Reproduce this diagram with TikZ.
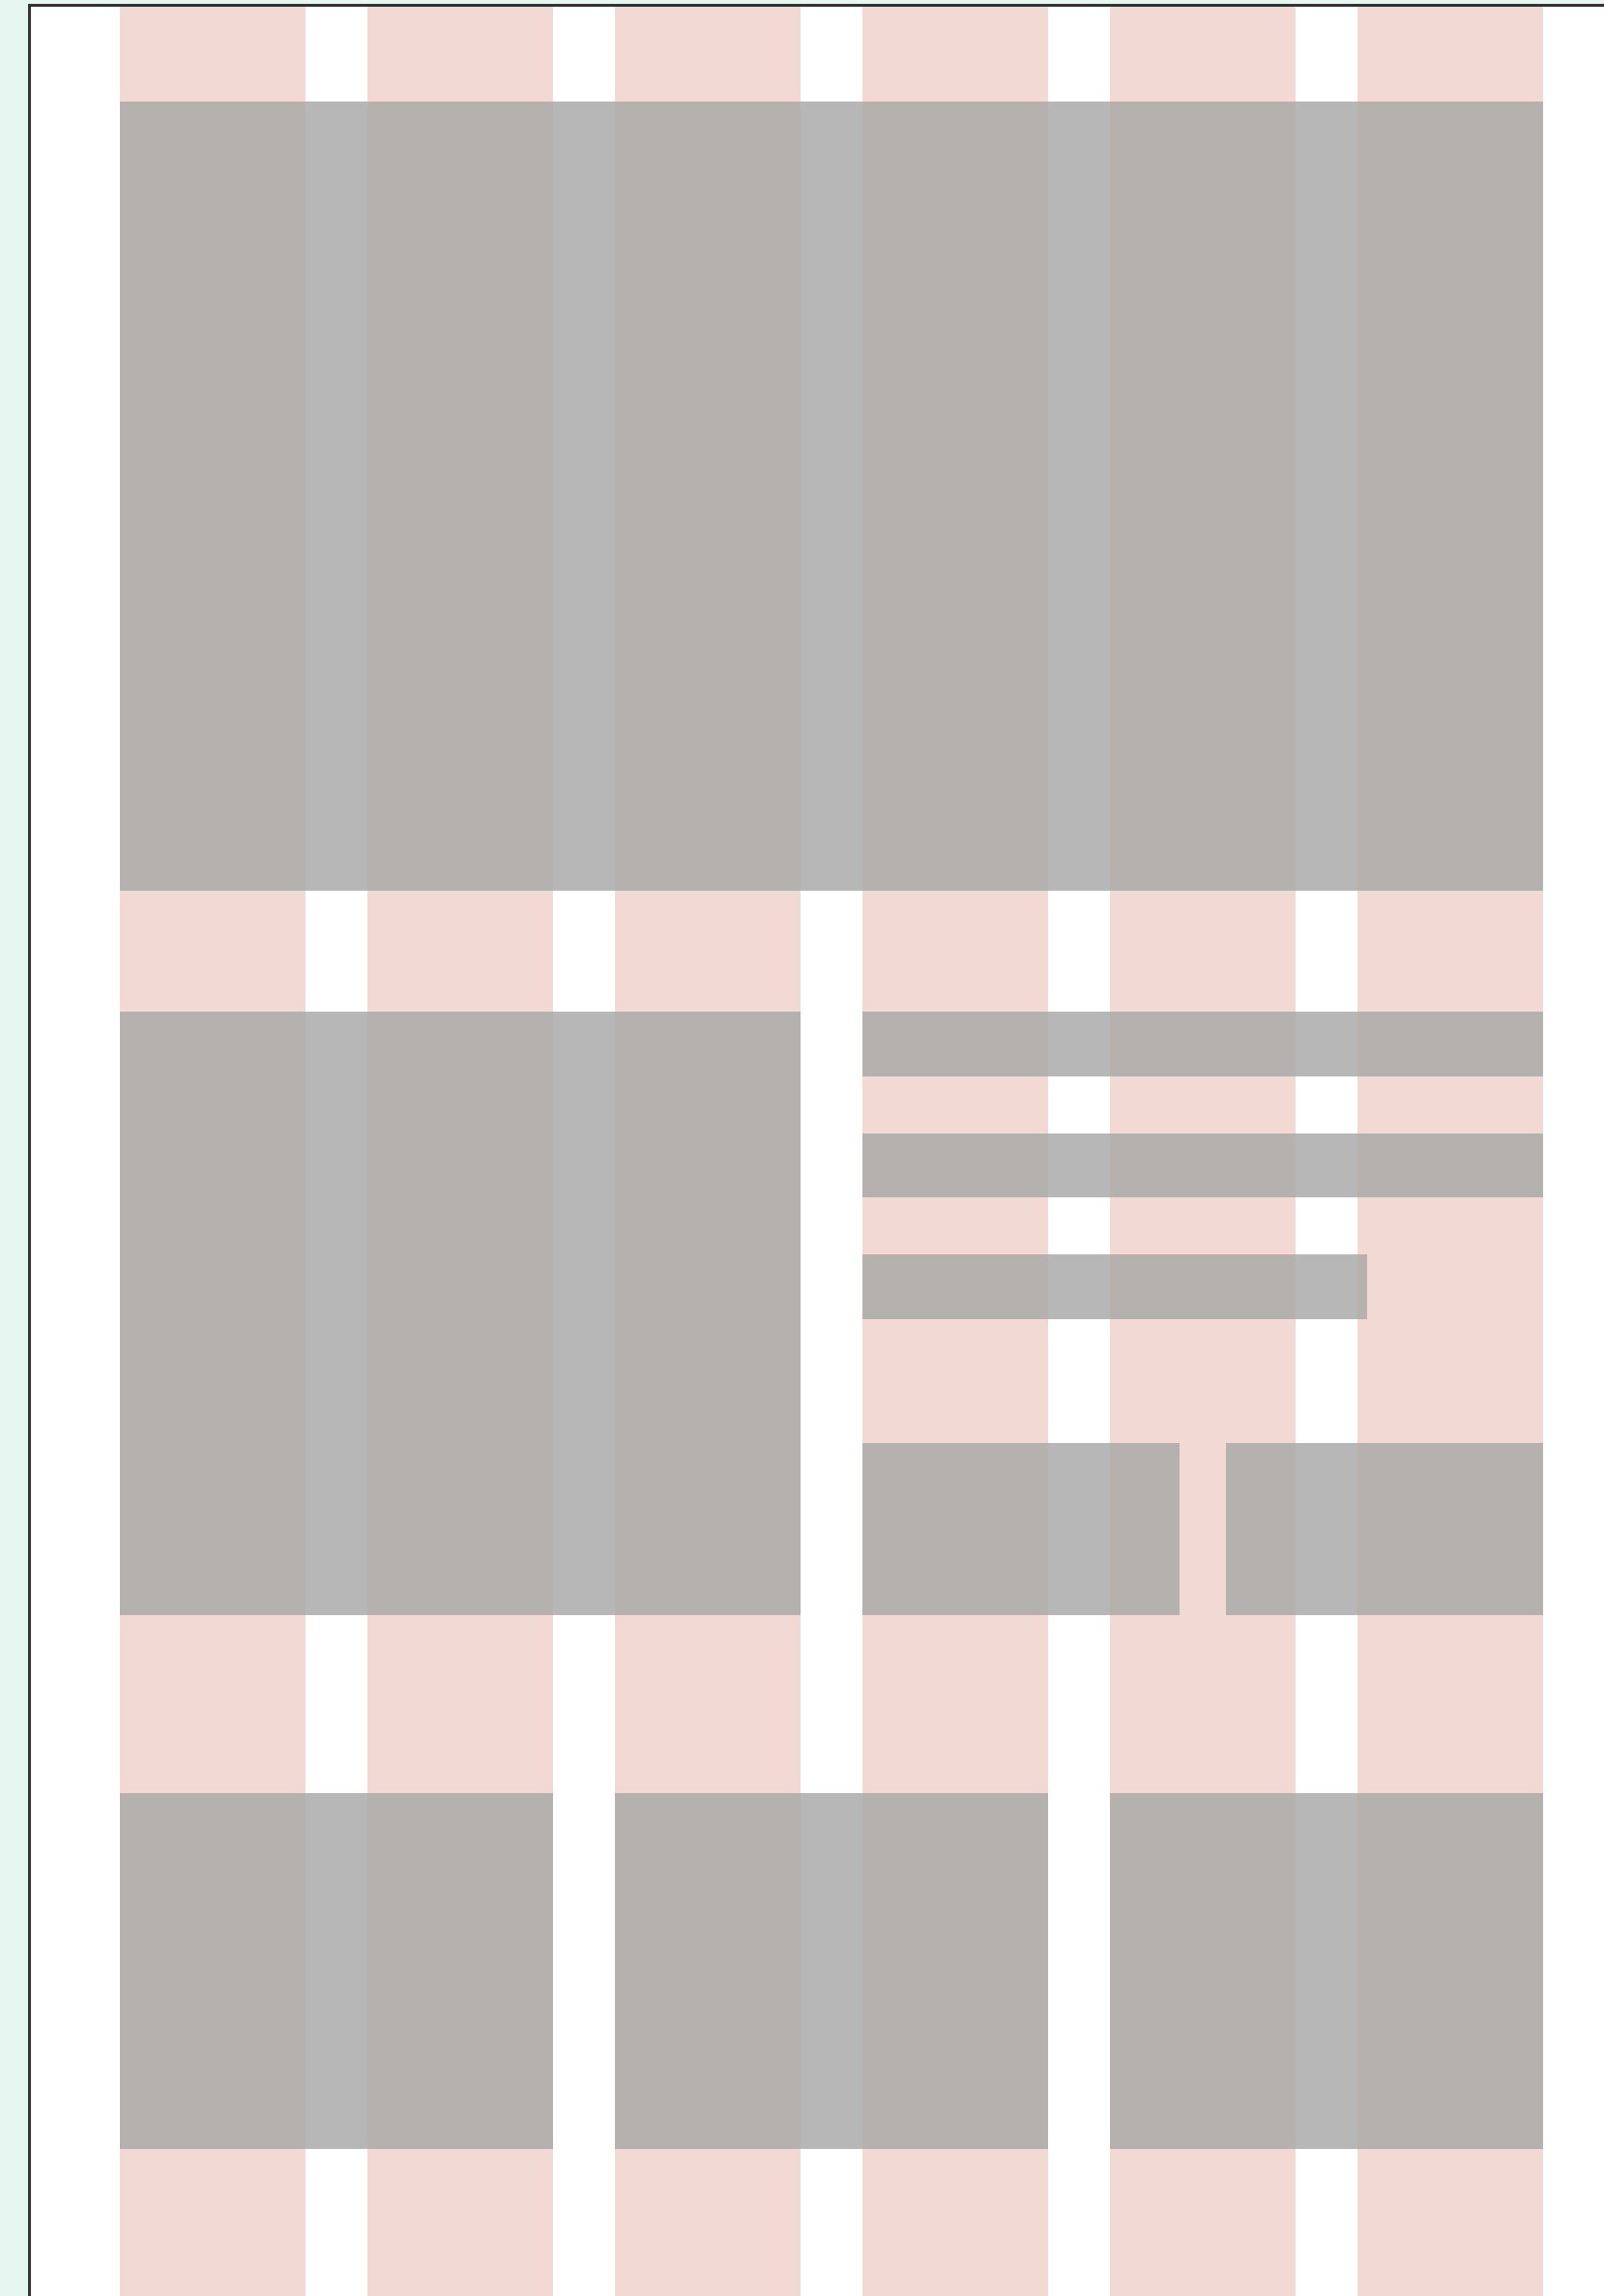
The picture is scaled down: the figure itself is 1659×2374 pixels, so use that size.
\documentclass[tikz,border=0pt]{standalone}
\begin{document}
\begin{tikzpicture}[x=1pt,y=-1pt,
  colband/.style={fill=pinkcol},
  graybox/.style={fill=overlaygray,fill opacity=0.83}]
\definecolor{mint}{HTML}{E6F7F1}
\definecolor{pinkcol}{HTML}{F3D9D3}
\definecolor{overlaygray}{RGB}{168,169,168}
\definecolor{framecol}{HTML}{333333}
\useasboundingbox (0,0) rectangle (1659,2374);
\clip (0,0) rectangle (1659,2374);
\fill[mint] (0,0) rectangle (1659,2374);
\fill[white] (30,6) rectangle (1670,2390);
% pink columns
\foreach \c in {124,380,636,892,1148,1404}
  \fill[colband] (\c,7) rectangle ({\c+192},2374);
\draw[framecol,line width=3pt] (30,2390) -- (30,6) -- (1670,6);
% gray regions
\fill[graybox] (124,105) rectangle (1596,921);
\fill[graybox] (124,1046) rectangle (828,1670);
\fill[graybox] (892,1046) rectangle (1596,1113);
\fill[graybox] (892,1172) rectangle (1596,1238);
\fill[graybox] (892,1297) rectangle (1414,1364);
\fill[graybox] (892,1492) rectangle (1220,1670);
\fill[graybox] (1268,1492) rectangle (1596,1670);
\fill[graybox] (124,1854) rectangle (572,2222);
\fill[graybox] (636,1854) rectangle (1084,2222);
\fill[graybox] (1148,1854) rectangle (1596,2222);
\end{tikzpicture}
\end{document}
